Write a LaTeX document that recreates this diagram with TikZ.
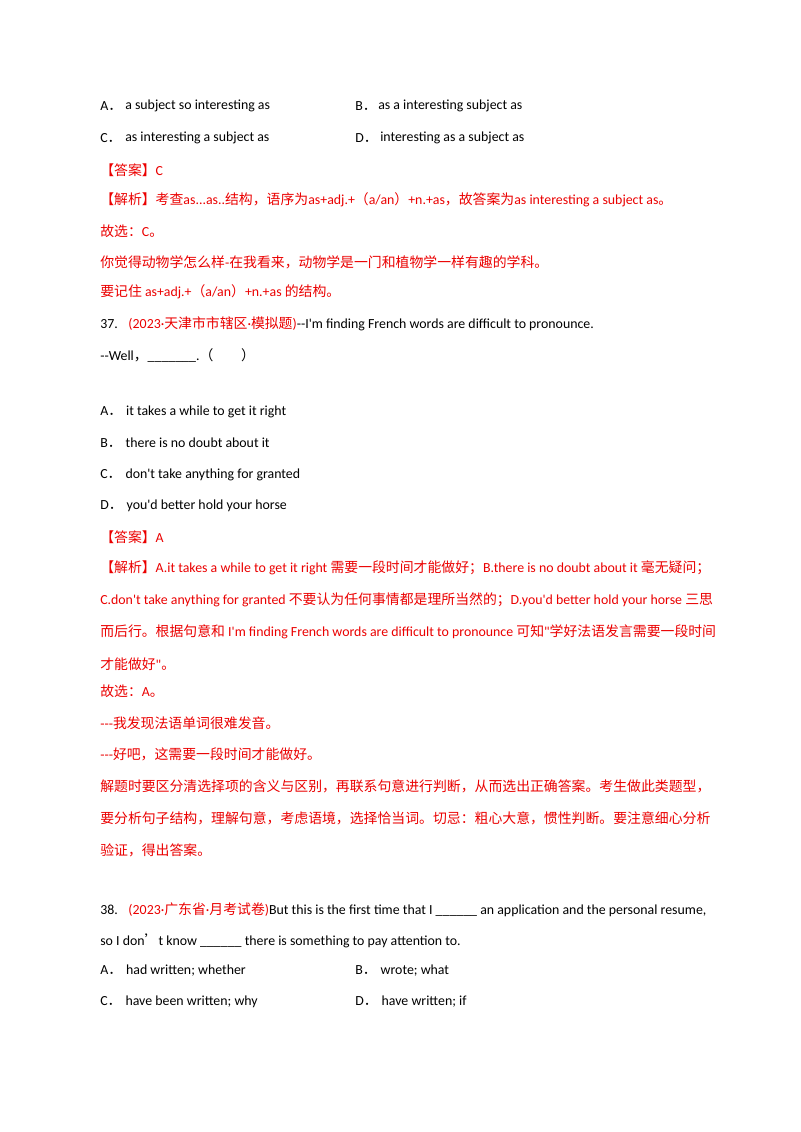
\documentclass[tikz,border=0pt]{standalone}
\usepackage{fontspec}
\setmainfont{Carlito}[Ligatures=TeXOff]
\newfontfamily\cjk{Noto Sans CJK SC}
\newcommand{\zh}[1]{{\cjk #1}}
\definecolor{ansred}{RGB}{235,0,0}
\begin{document}
\begin{tikzpicture}[x=0.75pt,y=-0.75pt,
  t/.style={anchor=west,inner sep=0pt,font=\fontsize{10.4pt}{12pt}\selectfont},
  r/.style={t,text=ansred}]
\useasboundingbox[fill=white] (0,0) rectangle (800,1132);
% options 36
\node[t] (a1) at (100,106) {A\zh{．}};
\node[t] (a1t) at (125,106) {a subject so interesting as};
\node[t] (b1) at (355,106) {B\zh{．}};
\node[t] (b1t) at (378,106) {as a interesting subject as};
\node[t] (c1) at (100,138) {C\zh{．}};
\node[t] (c1t) at (125,138) {as interesting a subject as};
\node[t] (d1) at (355,138) {D\zh{．}};
\node[t] (d1t) at (380,138) {interesting as a subject as};
\node[r] (ans1) at (100,170) {\zh{【答案】}C};
\node[r] (ex1) at (100,200) {\zh{【解析】考查}as...as..\zh{结构，语序为}as+adj.+\zh{（}a/an\zh{）}+n.+as\zh{，故答案为}as interesting a subject as\zh{。}};
\node[r] (g1) at (100,231) {\zh{故选：}C\zh{。}};
\node[r] (tr1) at (100,262) {\zh{你觉得动物学怎么样}-\zh{在我看来，动物学是一门和植物学一样有趣的学科。}};
\node[r] (tip1) at (100,292) {\zh{要记住} as+adj.+\zh{（}a/an\zh{）}+n.+as \zh{的结构。}};
% 37
\node[t] (q37) at (100,324) {37.\hspace{8pt}\textcolor{ansred}{(2023·\zh{天津市市辖区}·\zh{模拟题})}-\kern0pt-I'm finding French words are difficult to pronounce.};
\node[t] (q37b) at (100,355) {-\kern0pt-Well\zh{，}\_\_\_\_\_\_\_.\zh{（\qquad）}};
\node[t] (a2) at (100,412) {A\zh{．}\hspace{3pt}it takes a while to get it right};
\node[t] (b2) at (100,443) {B\zh{．}\hspace{3pt}there is no doubt about it};
\node[t] (c2) at (100,475) {C\zh{．}\hspace{3pt}don't take anything for granted};
\node[t] (d2) at (100,506) {D\zh{．}\hspace{3pt}you'd better hold your horse};
\node[r] (ans2) at (100,537) {\zh{【答案】}A};
\node[r] (ex2a) at (100,568) {\zh{【解析】}A.it takes a while to get it right \zh{需要一段时间才能做好；}B.there is no doubt about it \zh{毫无疑问；}};
\node[r] (ex2b) at (100,600) {C.don't take anything for granted \zh{不要认为任何事情都是理所当然的；}D.you'd better hold your horse \zh{三思}};
\node[r] (ex2c) at (100,632) {\zh{而后行。根据句意和} I'm finding French words are difficult to pronounce \zh{可知}"\zh{学好法语发言需要一段时间}};
\node[r] (ex2d) at (100,664) {\zh{才能做好}"\zh{。}};
\node[r] (g2) at (100,691) {\zh{故选：}A\zh{。}};
\node[r] (tr2a) at (100,723) {-\kern0pt-\kern0pt-\zh{我发现法语单词很难发音。}};
\node[r] (tr2b) at (100,754) {-\kern0pt-\kern0pt-\zh{好吧，这需要一段时间才能做好。}};
\node[r] (tip2a) at (100,786) {\zh{解题时要区分清选择项的含义与区别，再联系句意进行判断，从而选出正确答案。考生做此类题型，}};
\node[r] (tip2b) at (100,818) {\zh{要分析句子结构，理解句意，考虑语境，选择恰当词。切忌：粗心大意，惯性判断。要注意细心分析}};
\node[r] (tip2c) at (100,850) {\zh{验证，得出答案。}};
% 38
\node[t] (q38) at (100,910) {38.\hspace{8pt}\textcolor{ansred}{(2023·\zh{广东省}·\zh{月考试卷})}But this is the first time that I \_\_\_\_\_\_ an application and the personal resume,};
\node[t] (q38b) at (100,941) {so I don\zh{’}t know \_\_\_\_\_\_ there is something to pay attention to.};
\node[t] (a3) at (100,971) {A\zh{．}\hspace{3pt}had written; whether};
\node[t] (b3) at (355,971) {B\zh{．}\hspace{3pt}wrote; what};
\node[t] (c3) at (100,1002) {C\zh{．}\hspace{3pt}have been written; why};
\node[t] (d3) at (355,1002) {D\zh{．}\hspace{3pt}have written; if};
\end{tikzpicture}
\end{document}
